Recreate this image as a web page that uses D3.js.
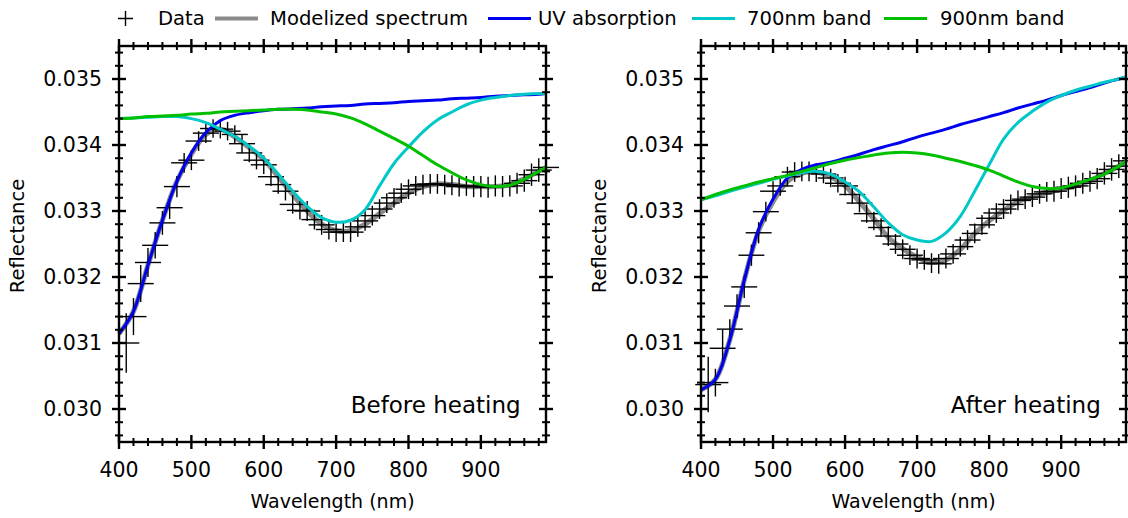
<!DOCTYPE html>
<html>
<head>
<meta charset="utf-8">
<script src="https://cdn.jsdelivr.net/npm/d3@7"></script>
<style>
  body { margin: 0; background: #fff; }
  svg { display: block; font-family: "DejaVu Sans", sans-serif; }
  .tick line { stroke: #000; }
</style>
</head>
<body>
<svg id="chart" width="1128" height="518"></svg>
<script>
// wavelength grid of the fitted curves (nm)
const modelWl = [400, 420, 440, 460, 480, 500, 520, 540, 560, 580, 600, 620, 640, 660, 680,
  700, 720, 740, 760, 780, 800, 820, 840, 860, 880, 900, 920, 940, 960, 980, 990];

// before heating
const beforeModel = [.03114, .03148, .03218, .03286, .03345, .03386, .03416, .03424, .03412, .03396, .03378,
  .03352, .03325, .03300, .03280, .03270, .03270, .03280, .03296, .03312, .03327, .03337, .03341, .03340,
  .03337, .03337, .03337, .03340, .03349, .03360, .03366];
const beforeUV = [.03114, .03148, .03218, .03286, .03345, .03388, .03419, .03437, .03445, .03449, .03452,
  .03454, .03455, .03456, .03458, .03459, .03460, .03462, .03463, .03464, .03466, .03467, .03468, .03470,
  .03471, .03472, .03474, .03475, .03476, .03477, .03478];
const before700 = [.03440, .03441, .03442, .03443, .03443, .03440, .03434, .03424, .03413, .03398, .03380,
  .03356, .03330, .03307, .03290, .03283, .03286, .03302, .03338, .03372, .03397, .03420, .03438, .03450,
  .03461, .03468, .03472, .03475, .03477, .03478, .03478];
const before900 = [.03440, .03441, .03443, .03444, .03445, .03447, .03448, .03450, .03451, .03452, .03453,
  .03454, .03454, .03453, .03450, .03447, .03441, .03432, .03421, .03410, .03398, .03384, .03370, .03358,
  .03347, .03340, .03337, .03339, .03348, .03360, .03366];

// after heating
const afterModel = [.03029, .03045, .03105, .03195, .03270, .03314, .03345, .03357, .03359, .03352, .03338,
  .03314, .03288, .03260, .03243, .03230, .03222, .03226, .03242, .03266, .03285, .03301, .03314, .03322,
  .03328, .03333, .03338, .03346, .03357, .03368, .03376];
const afterUV = [.03029, .03045, .03105, .03195, .03272, .03318, .03350, .03363, .03370, .03374, .03380,
  .03386, .03393, .03399, .03405, .03412, .03418, .03424, .03431, .03437, .03443, .03449, .03456, .03462,
  .03468, .03475, .03481, .03487, .03494, .03500, .03503];
const after700 = [.03317, .03323, .03330, .03336, .03342, .03348, .03353, .03358, .03360, .03356, .03344,
  .03329, .03306, .03282, .03264, .03256, .03254, .03267, .03292, .03330, .03370, .03409, .03434, .03451,
  .03465, .03475, .03483, .03489, .03495, .03500, .03503];
const after900 = [.03317, .03325, .03332, .03338, .03344, .03349, .03354, .03360, .03366, .03372, .03377,
  .03381, .03385, .03388, .03389, .03388, .03385, .03380, .03375, .03369, .03362, .03353, .03344, .03337,
  .03334, .03335, .03341, .03348, .03356, .03368, .03376];

// measured points
const dataWl = [410, 420, 430, 440, 450, 460, 470, 480, 490, 500, 510, 520, 530, 540, 550, 560, 570, 580,
  590, 600, 610, 620, 630, 640, 650, 660, 670, 680, 690, 700, 710, 720, 730, 740, 750, 760, 770, 780, 790,
  800, 810, 820, 830, 840, 850, 860, 870, 880, 890, 900, 910, 920, 930, 940, 950, 960, 970, 980, 990];
const beforeData = [.03100, .03140, .03190, .03222, .03248, .03282, .03305, .03337, .03373, .03377,
  .03406, .03418, .03425, .03424, .03421, .03416, .03402, .03388, .03377, .03370,
  .03352, .03340, .03330, .03310, .03301, .03300, .03287, .03279, .03272, .03268,
  .03268, .03268, .03276, .03285, .03293, .03303, .03312, .03320, .03327, .03333,
  .03338, .03340, .03341, .03341, .03340, .03339, .03337, .03338, .03337, .03337,
  .03336, .03338, .03337, .03338, .03342, .03346, .03355, .03362, .03366];
const beforeErr = [.00045, .00028, .00028, .00022, .00020, .00018, .00017, .00016, .00015, .00015,
  .00015, .00015, .00014, .00014, .00014, .00014, .00014, .00014, .00014, .00014,
  .00014, .00014, .00014, .00014, .00014, .00015, .00015, .00015, .00015, .00015,
  .00015, .00015, .00015, .00015, .00015, .00015, .00015, .00015, .00015, .00015,
  .00015, .00015, .00015, .00015, .00015, .00015, .00015, .00015, .00016, .00016,
  .00016, .00016, .00016, .00016, .00016, .00017, .00017, .00018, .00018];
const afterData = [.03037, .03040, .03092, .03121, .03156, .03185, .03233, .03267, .03299, .03330,
  .03338, .03352, .03359, .03360, .03360, .03358, .03356, .03350, .03342, .03338,
  .03325, .03312, .03296, .03285, .03275, .03262, .03250, .03242, .03233, .03228,
  .03226, .03221, .03220, .03228, .03235, .03246, .03256, .03266, .03279, .03289,
  .03297, .03303, .03310, .03316, .03318, .03321, .03326, .03329, .03330, .03334,
  .03336, .03338, .03342, .03345, .03349, .03357, .03363, .03368, .03376];
const afterErr = [.00042, .00021, .00028, .00015, .00018, .00017, .00016, .00016, .00015, .00015,
  .00015, .00015, .00015, .00015, .00015, .00014, .00014, .00014, .00014, .00014,
  .00014, .00014, .00014, .00014, .00014, .00015, .00015, .00015, .00015, .00015,
  .00015, .00015, .00015, .00015, .00015, .00015, .00015, .00015, .00015, .00015,
  .00015, .00015, .00015, .00015, .00015, .00015, .00015, .00015, .00016, .00016,
  .00016, .00016, .00016, .00016, .00016, .00017, .00017, .00018, .00018];
const bandHalfWidth = 18; // nm, horizontal bar of each data cross

const xMajor = [400, 500, 600, 700, 800, 900];
const xMinor = [420, 440, 460, 480, 520, 540, 560, 580, 620, 640, 660, 680, 720, 740, 760, 780,
  820, 840, 860, 880, 920, 940, 960, 980];
const yMajor = [0.030, 0.031, 0.032, 0.033, 0.034, 0.035];
const yMinor = [0.0296, 0.0298, 0.0302, 0.0304, 0.0306, 0.0308, 0.0312, 0.0314, 0.0316, 0.0318,
  0.0322, 0.0324, 0.0326, 0.0328, 0.0332, 0.0334, 0.0336, 0.0338, 0.0342, 0.0344, 0.0346, 0.0348,
  0.0352, 0.0354];

const legendNames = ['Data', 'Modelized spectrum', 'UV absorption', '700nm band', '900nm band'];
const colors = {model: '#8a8a8a', uv: '#0000f0', b700: '#00c8c8', b900: '#00c000'};

const svg = d3.select('#chart');
const top0 = 46, bottom0 = 442;

function drawPanel(cfg) {
  const x = d3.scaleLinear().domain([400, 990]).range([cfg.left, cfg.right]);
  const y = d3.scaleLinear().domain([0.0295, 0.0355]).range([bottom0, top0]);
  const g = svg.append('g');

  // curves
  const line = (vals) => d3.line()
    .x((d, i) => x(modelWl[i]))
    .y((d) => y(d))
    .curve(d3.curveCatmullRom.alpha(0.5))(vals);

  g.append('path').attr('d', line(cfg.model))
    .attr('fill', 'none').attr('stroke', colors.model).attr('stroke-width', 5);

  // data crosses
  const pts = g.append('g').attr('stroke', '#000').attr('stroke-width', 1.4);
  cfg.data.forEach((v, i) => {
    const w = dataWl[i];
    pts.append('line')
      .attr('x1', x(w - bandHalfWidth)).attr('x2', x(w + bandHalfWidth))
      .attr('y1', y(v)).attr('y2', y(v));
    pts.append('line')
      .attr('x1', x(w)).attr('x2', x(w))
      .attr('y1', y(v - cfg.err[i])).attr('y2', y(v + cfg.err[i]));
  });

  [[cfg.uv, colors.uv], [cfg.b700, colors.b700], [cfg.b900, colors.b900]].forEach(([vals, c]) => {
    g.append('path').attr('d', line(vals))
      .attr('fill', 'none').attr('stroke', c).attr('stroke-width', 3);
  });

  // frame
  g.append('rect')
    .attr('x', cfg.left).attr('y', top0)
    .attr('width', cfg.right - cfg.left).attr('height', bottom0 - top0)
    .attr('fill', 'none').attr('stroke', '#000').attr('stroke-width', 2.4);

  // ticks crossing every side
  const sides = [
    {out: d3.axisBottom, inn: d3.axisTop, s: x, t: `translate(0,${bottom0})`, maj: xMajor, min: xMinor, lab: true},
    {out: d3.axisTop, inn: d3.axisBottom, s: x, t: `translate(0,${top0})`, maj: xMajor, min: xMinor, lab: false},
    {out: d3.axisLeft, inn: d3.axisRight, s: y, t: `translate(${cfg.left},0)`, maj: yMajor, min: yMinor, lab: true},
    {out: d3.axisRight, inn: d3.axisLeft, s: y, t: `translate(${cfg.right},0)`, maj: yMajor, min: yMinor, lab: false},
  ];
  sides.forEach((sd) => {
    const isX = sd.s === x;
    [[sd.out, true], [sd.inn, false]].forEach(([fn, outward]) => {
      const major = fn(sd.s).tickValues(sd.maj).tickSize(7).tickSizeOuter(0).offset(0);
      if (outward && sd.lab) {
        major.tickPadding(isX ? 13 : 10).tickFormat(isX ? d3.format('d') : d3.format('.3f'));
      } else {
        major.tickFormat('');
      }
      const ga = g.append('g').attr('transform', sd.t).call(major);
      ga.select('.domain').remove();
      ga.selectAll('line').attr('stroke-width', 2.4);
      ga.selectAll('text').attr('font-size', 20.5).attr('fill', '#000')
        .attr('font-family', '"DejaVu Sans", sans-serif');

      const minor = fn(sd.s).tickValues(sd.min).tickSize(4).tickSizeOuter(0).offset(0).tickFormat('');
      const gm = g.append('g').attr('transform', sd.t).call(minor);
      gm.select('.domain').remove();
      gm.selectAll('line').attr('stroke-width', 2);
    });
  });

  // titles
  svg.append('text')
    .attr('x', (cfg.left + cfg.right) / 2).attr('y', 508)
    .attr('text-anchor', 'middle').attr('font-size', 19)
    .text('Wavelength (nm)');
  svg.append('text')
    .attr('transform', `translate(${cfg.left - 95},${236}) rotate(-90)`)
    .attr('text-anchor', 'middle').attr('font-size', 19.5)
    .text('Reflectance');
  svg.append('text')
    .attr('x', x(955)).attr('y', 413)
    .attr('text-anchor', 'end').attr('font-size', 23)
    .text(cfg.title);
}

drawPanel({left: 119, right: 546, title: 'Before heating',
  model: beforeModel, uv: beforeUV, b700: before700, b900: before900, data: beforeData, err: beforeErr});
drawPanel({left: 701, right: 1126, title: 'After heating',
  model: afterModel, uv: afterUV, b700: after700, b900: after900, data: afterData, err: afterErr});

// legend
const leg = svg.append('g').attr('font-size', 19.6);
const legY = 18.5;
leg.append('path').attr('d', `M118,${legY}H133M125.5,${legY - 7.5}V${legY + 7.5}`)
  .attr('stroke', '#000').attr('stroke-width', 1.4);
leg.append('text').attr('x', 158).attr('y', 25).text(legendNames[0]);
const legLines = [
  {x: 215, c: colors.model, w: 4, tx: 270},
  {x: 488, c: colors.uv, w: 3, tx: 538},
  {x: 692, c: colors.b700, w: 3, tx: 747},
  {x: 884, c: colors.b900, w: 3, tx: 940},
];
legLines.forEach((d, i) => {
  leg.append('line').attr('x1', d.x).attr('x2', d.x + 43)
    .attr('y1', legY).attr('y2', legY)
    .attr('stroke', d.c).attr('stroke-width', d.w);
  leg.append('text').attr('x', d.tx).attr('y', 25).text(legendNames[i + 1]);
});
</script>
</body>
</html>
